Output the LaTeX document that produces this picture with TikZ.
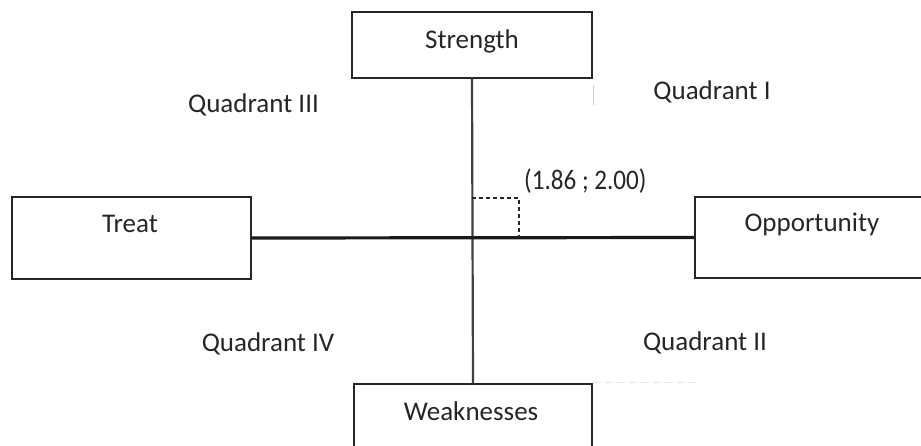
\documentclass[tikz,border=0pt]{standalone}
\usepackage{fontspec}
\setmainfont{Carlito}
\begin{document}
\begin{tikzpicture}[x=1pt,y=-1pt,
  boxstyle/.style={draw=black!85, line width=1.3pt, fill=white, inner sep=0pt},
  txt/.style={font=\fontsize{27}{30}\selectfont, text=black!85, inner sep=0pt},
  vaxis/.style={draw=black!75, line width=2.2pt},
  haxis/.style={draw=black!90, line width=3.2pt},
  dashline/.style={draw=black!85, line width=1.4pt, dash pattern=on 4pt off 3pt},
  faint/.style={draw=black!18, line width=1pt}]
\useasboundingbox (0,0) rectangle (921,445);
\clip (0,0) rectangle (921,445);
% boxes
\node[boxstyle, minimum width=240pt, minimum height=66pt] (S) at (472,45) {};
\node[boxstyle, minimum width=238pt, minimum height=80pt] (W) at (473,424) {};
\node[boxstyle, minimum width=239pt, minimum height=82pt] (T) at (131.5,238) {};
\node[boxstyle, minimum width=240pt, minimum height=81pt] (O) at (815,237.5) {};
% box texts
\node[txt] (St) at (472,41) {Strength};
\node[txt] (Wt) at (471,411) {Weaknesses};
\node[txt] (Tt) at (130,224) {Treat};
\node[txt] (Ot) at (812,224) {Opportunity};
% axes
\draw[vaxis] (S.south) -- (W.north);
\coordinate (C) at (S.south |- T.east);
\draw[haxis] (T.east) -- (O.west);
% dashed marker
\coordinate (P) at (519,198);
\draw[dashline] (P -| S.south) -- (P) -- (P |- C);
\node[txt, anchor=west] (lab) at (524,181) {\scalebox{0.93}[1.05]{(1.86 ; 2.00)}};
% quadrant labels
\node[txt] (q3) at (253.5,105) {Quadrant III};
\node[txt] (q1) at (712,92) {Quadrant I};
\node[txt] (q4) at (268,344) {Quadrant IV};
\node[txt] (q2) at (705,343) {Quadrant II};
% faint artifacts
\coordinate (a1) at (593,85);
\coordinate (a2) at (593,105);
\draw[faint] (a1) -- (a2);
\coordinate (b1) at (593,382);
\coordinate (b2) at (700,382);
\draw[faint, draw=black!10, dash pattern=on 8pt off 4pt] (b1) -- (b2);
\end{tikzpicture}
\end{document}
